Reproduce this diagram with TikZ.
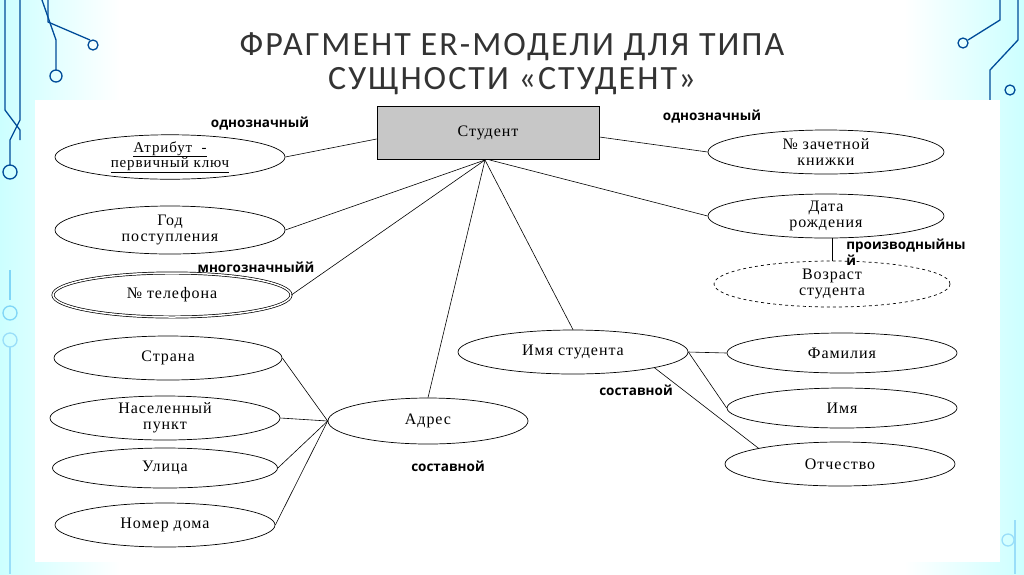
\documentclass[tikz,border=0pt]{standalone}
\usepackage{fontspec}
\setmainfont{Liberation Serif}[LetterSpace=6]
\newfontfamily\lab{Open Sans}
\newfontfamily\ttl{Carlito}[LetterSpace=6]
\usetikzlibrary{shapes.geometric}
\begin{document}
\begin{tikzpicture}[x=1pt,y=-1pt,
  attr/.style={draw,ellipse,minimum width=#1,minimum height=42,inner sep=0pt,align=center,font=\fontsize{16}{16}\selectfont,line width=0.7pt},
  lbl/.style={font=\lab\bfseries\fontsize{13.5}{16}\selectfont},
  circ/.style={draw=cyan!60!blue!70,line width=1.3pt},
  con/.style={line width=0.6pt}]
\useasboundingbox (0,0) rectangle (1024,574);
\shade[left color=cyan!20, right color=white] (0,0) rectangle (120,574);
\shade[left color=white, right color=cyan!20] (904,0) rectangle (1024,574);
\fill[white] (120,0) rectangle (904,574);
% circuit decorations
\draw[circ,draw=blue!50!cyan!60!black] (20,0)--(20,120)--(10,140)--(10,165); \draw[circ,draw=blue!50!cyan!60!black] (10,172) circle (7);
\draw[circ,draw=blue!50!cyan!60!black] (48,0)--(48,22)--(90,40); \draw[circ,draw=blue!50!cyan!60!black] (93,45) circle (5);
\draw[circ,draw=blue!50!cyan!60!black] (42,0)--(56,40)--(56,70); \draw[circ,draw=blue!50!cyan!60!black] (56,76) circle (6);
\draw[circ,draw=blue!50!cyan!60!black] (5,0)--(5,110)--(20,130)--(20,140);
\draw[circ,draw=cyan!50] (10,270)--(10,300); \draw[circ,draw=cyan!50] (10,313) circle (7);
\draw[circ,draw=cyan!40] (10,340) circle (7); \draw[circ,draw=cyan!40] (10,347)--(10,574);
\draw[circ,draw=blue!50!cyan!60!black] (1018,0)--(1018,40)--(990,70)--(990,100);
\draw[circ,draw=blue!50!cyan!60!black] (1000,0)--(1000,20)--(968,40); \draw[circ,draw=blue!50!cyan!60!black] (963,43) circle (5);
\draw[circ,draw=blue!50!cyan!60!black] (1010,90) circle (5);
\draw[circ,draw=cyan!40] (1015,520)--(1015,574); \draw[circ,draw=cyan!40] (1008,540) circle (6);
% white panel
\fill[white] (35,100) rectangle (1000,562);
% title
\node[font=\ttl\fontsize{34}{34}\selectfont,text=black!80,align=center] (title) at (512,64) {ФРАГМЕНТ ER-МОДЕЛИ ДЛЯ ТИПА\\СУЩНОСТИ «СТУДЕНТ»};
% nodes
\node[draw,fill=black!22,minimum width=222,minimum height=53,font=\fontsize{16}{16}\selectfont,line width=0.8pt] (st) at (488,133) {Студент};
\node[attr=230,minimum height=40,font=\fontsize{15}{15}\selectfont] (pk) at (170,157) {\underline{Атрибут\ \ -}\\[-1pt]\underline{первичный ключ}};
\node[attr=230,minimum height=48] (god) at (170,230) {Год\\поступления};
\node[attr=238,minimum height=44,double,double distance=1.5pt] (tel) at (172,295) {№ телефона};
\node[attr=228,minimum height=44] (str) at (168,358) {Страна};
\node[attr=230,minimum height=44] (np) at (165,418) {Населенный\\пункт};
\node[attr=225,minimum height=40] (ul) at (165,468) {Улица};
\node[attr=220,minimum height=44] (nd) at (165,525) {Номер дома};
\node[attr=200,minimum height=46] (adr) at (428,421) {Адрес};
\node[attr=230,minimum height=44] (imst) at (573,352) {Имя студента};
\node[attr=230,minimum height=40] (fam) at (842,353) {Фамилия};
\node[attr=230,minimum height=40] (im) at (842,408) {Имя};
\node[attr=230,minimum height=44] (ot) at (840,464) {Отчество};
\node[attr=236,minimum height=44] (zk) at (826,152) {№ зачетной\\книжки};
\node[attr=236,minimum height=44] (dr) at (826,216) {Дата\\рождения};
\node[attr=236,minimum height=46,dashed] (vz) at (832,284) {Возраст\\студента};
\coordinate (sb) at (485,160);
% connectors
\draw[con] (st.west) ++(0,6) -- (pk.east);
\draw[con] (sb) -- (god.east);
\draw[con] (sb) -- (tel.east);
\draw[con] (sb) -- (adr.north);
\draw[con] (sb) -- (imst.north);
\draw[con] (st.south east) ++(-110,0) -- (dr.west);
\draw[con] (st.east) ++(0,4) -- (zk.west);
\draw[con] (dr.south -| vz.north) -- (vz.north);
\draw[con] (str.east) -- (adr.west);
\draw[con] (np.east) -- (adr.west);
\draw[con] (ul.east) -- (adr.west);
\draw[con] (nd.east) -- (adr.west);
\draw[con] (imst.east) -- (fam.west);
\draw[con] (imst.east) -- (im.west);
\draw[con] (imst.south east) -- (ot.north west);
% labels
\node[lbl] (l1) at (260,124) {однозначный};
\node[lbl] (l2) at (712,117) {однозначный};
\node[lbl] (l3) at (256,267) {многозначныйй};
\node[lbl,align=left] (l4) at (906,252) {производныйны\\й};
\node[lbl] (l5) at (636,390) {составной};
\node[lbl] (l6) at (448,466) {составной};
\end{tikzpicture}
\end{document}
